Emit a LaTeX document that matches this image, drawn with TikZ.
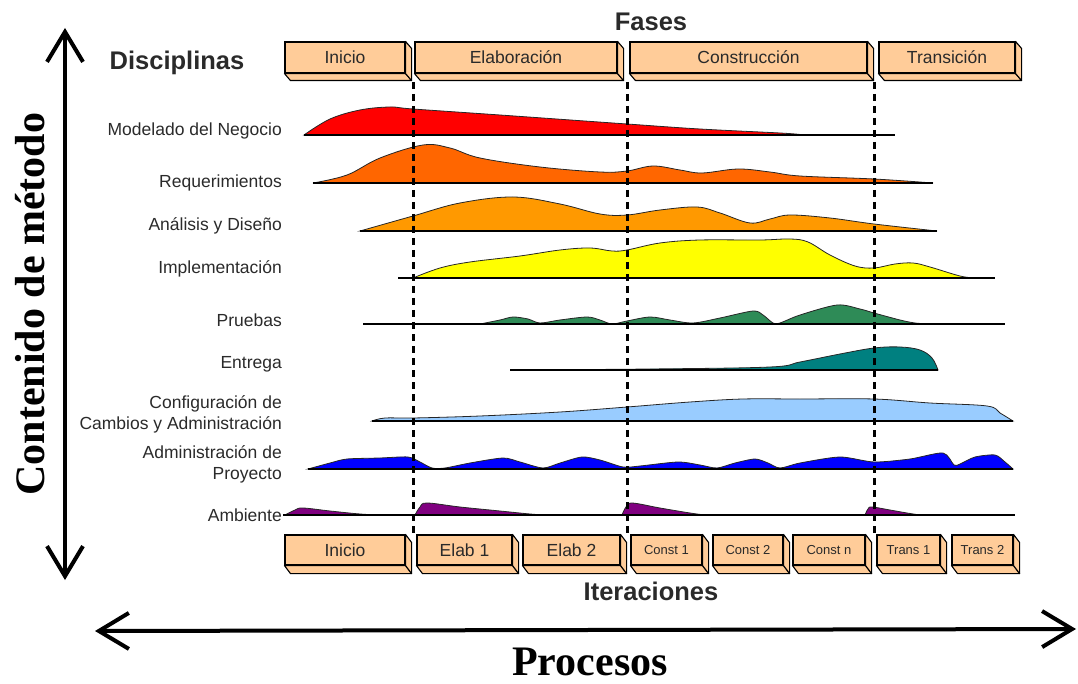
\documentclass[tikz,border=0pt]{standalone}
\usepackage{fontspec}
\setmainfont{Liberation Sans}
\newfontfamily\titleserif{Liberation Serif}
\usetikzlibrary{arrows.meta}
\definecolor{peach}{HTML}{FFCC99}
\definecolor{textgray}{HTML}{2A2A2A}
\definecolor{cRed}{HTML}{FF0000}
\definecolor{cOrange}{HTML}{FF6600}
\definecolor{cAmber}{HTML}{FF9900}
\definecolor{cYellow}{HTML}{FFFF00}
\definecolor{cGreen}{HTML}{2E8B57}
\definecolor{cTeal}{HTML}{008080}
\definecolor{cSky}{HTML}{99CCFF}
\definecolor{cBlue}{HTML}{0000FF}
\definecolor{cPurple}{HTML}{800080}
\begin{document}
\begin{tikzpicture}[x=1pt,y=-1pt,
  phase/.style={draw=black, line width=1.1pt, fill=peach, inner sep=0pt,
    text=textgray, font=\fontsize{17.5}{19}\selectfont},
  smallphase/.style={phase, font=\fontsize{13}{15}\selectfont},
  depth/.style={draw=black, line width=1.1pt, fill=peach, line join=round},
  disc/.style={anchor=east, text=textgray, align=right, inner sep=0pt,
    font=\fontsize{17.5}{21}\selectfont},
  heading/.style={text=textgray, font=\bfseries\fontsize{25.5}{28}\selectfont},
  bigtitle/.style={text=black, font=\titleserif\bfseries\fontsize{42}{46}\selectfont},
  hump/.style={draw=black!85, line width=0.8pt},
  base/.style={draw=black, line width=1.6pt},
  phaseline/.style={line width=3pt, dash pattern=on 7pt off 5pt},
  axis/.style={line width=4pt,
    {Straight Barb[length=30pt,width=36pt]}-{Straight Barb[length=30pt,width=36pt]}}
]
\useasboundingbox (0,0) rectangle (1078,684);

% ---- axes ----
\coordinate (ytop) at (65,28);
\coordinate (ybot) at (65,580);
\coordinate (xl) at (95,631);
\coordinate (xr) at (1076,629);
\draw[axis] (ytop) -- (ybot);
\draw[axis] (xl) -- (xr);
\node[bigtitle, rotate=90] (ttlv) at (30,304) {Contenido de método};
\node[bigtitle] (ttlh) at (590,662) {Procesos};

% ---- headings ----
\node[heading] (fases) at (651,22) {Fases};
\node[heading] (discip) at (177,63) {Disciplinas};
\node[heading] (iter) at (651,591) {Iteraciones};

% ---- phase boxes (top) ----
\foreach \n/\a/\b/\t in {p1/285/405/Inicio, p2/415/617/Elaboración,
                         p3/630/867/Construcción, p4/879/1015/Transición}{
  \node[phase, minimum width=\b pt-\a pt, minimum height=31pt]
    (\n) at ({(\a+\b)/2},57.5) {\t};
  \draw[depth] (\n.south west) -- ([shift={(6,7)}]\n.south west)
    -- ([shift={(6,7)}]\n.south east) -- (\n.south east) -- cycle;
  \draw[depth] (\n.north east) -- ([shift={(6,7)}]\n.north east)
    -- ([shift={(6,7)}]\n.south east) -- (\n.south east) -- cycle;
}

% ---- iteration boxes (bottom) ----
\foreach \n/\a/\b/\t/\s in {i1/285/405/Inicio/phase, i2/417/512/Elab 1/phase,
    i3/523/620/Elab 2/phase, i4/631/702/Const 1/smallphase,
    i5/713/783/Const 2/smallphase, i6/793/865/Const n/smallphase,
    i7/877/940/Trans 1/smallphase, i8/952/1013/Trans 2/smallphase}{
  \node[\s, minimum width=\b pt-\a pt, minimum height=30pt]
    (\n) at ({(\a+\b)/2},550) {\t};
  \draw[depth] (\n.south west) -- ([shift={(6,8)}]\n.south west)
    -- ([shift={(6,8)}]\n.south east) -- (\n.south east) -- cycle;
  \draw[depth] (\n.north east) -- ([shift={(6,8)}]\n.north east)
    -- ([shift={(6,8)}]\n.south east) -- (\n.south east) -- cycle;
}

% ---- discipline labels ----
\node[disc] (d1) at (282,131) {Modelado del Negocio};
\node[disc] (d2) at (282,183) {Requerimientos};
\node[disc] (d3) at (282,226) {Análisis y Diseño};
\node[disc] (d4) at (282,269) {Implementación};
\node[disc] (d5) at (282,320) {Pruebas};
\node[disc] (d6) at (282,364) {Entrega};
\node[disc] (d7) at (282,414) {Configuración de\\Cambios y Administración};
\node[disc] (d8) at (282,464) {Administración de\\Proyecto};
\node[disc] (d9) at (282,515) {Ambiente};

% ---- workload curves ----
% Modelado del Negocio
\path[fill=cRed, hump] plot[smooth, tension=0.6] coordinates {(304,135) (330,119) (360,110) (390,107) (413,109) (500,115) (627,124) (700,129) (780,133) (800,134.5)} -- cycle;
\draw[base] (304,135) -- (895,135);
% Requerimientos
\path[fill=cOrange, hump] plot[smooth, tension=0.6] coordinates {(313,183) (347,175) (380,158) (423,145) (450,148) (480,158) (540,167) (600,172) (627,171) (653,166) (680,170) (702,173) (738,169) (770,172) (800,176) (874,179) (933,183)} -- cycle;
\draw[base] (313,183) -- (933,183);
% Analisis y Diseno
\path[fill=cAmber, hump] plot[smooth, tension=0.6] coordinates {(360,231) (413,216) (460,203) (513,197) (560,204) (600,214) (627,215) (660,210) (697,207) (720,213) (750,223) (770,219) (790,215) (830,218) (874,224) (937,231)} -- cycle;
\draw[base] (360,231) -- (937,231);
% Implementacion
\path[fill=cYellow, hump] plot[smooth, tension=0.6] coordinates {(413,278) (440,268) (470,262) (520,256) (560,250) (590,248) (612,251) (627,250) (660,243) (700,240) (760,240) (790,239) (808,242) (830,255) (855,266) (874,268) (895,264) (913,263) (930,267) (960,276) (975,278)} -- cycle;
\draw[base] (398,278) -- (995,278);
% Pruebas
\path[fill=cGreen, hump] plot[smooth, tension=0.5] coordinates {(480,324) (500,320) (513,317) (528,319) (540,323) (560,320) (587,317) (600,320) (612,324) (627,321) (650,317) (670,320) (693,323) (720,318) (753,311) (763,315) (773,323) (780,323) (800,315) (837,305) (860,309) (874,313) (900,320) (915,323) (930,324)} -- cycle;
\draw[base] (363,324) -- (1005,324);
% Entrega
\path[fill=cTeal, hump] plot[smooth, tension=0.6] coordinates {(510,370) (650,369) (770,367) (800,362) (840,354) (874,348) (900,347) (920,350) (932,358) (938,370)} -- cycle;
\draw[base] (510,370) -- (938,370);
% Configuracion de Cambios
\path[fill=cSky, hump] plot[smooth, tension=0.6] coordinates {(372,421) (385,418) (413,418) (480,416) (560,412) (627,407) (690,402) (743,399) (800,399) (874,399) (930,403) (987,406) (1000,413) (1013,421)} -- cycle;
\draw[base] (372,421) -- (1013,421);
% Administracion de Proyecto
\path[fill=cBlue, hump] plot[smooth, tension=0.45] coordinates {(308,469) (330,463) (347,459) (380,458) (408,457) (420,462) (432,468) (445,468) (470,463) (503,458) (520,462) (543,468) (560,463) (582,457) (600,460) (623,467) (640,466) (678,462) (700,465) (717,468) (735,463) (755,459) (768,463) (780,468) (800,463) (840,457) (874,462) (910,459) (943,453) (954,465) (960,464) (975,457) (995,455) (1005,462) (1013,469)} -- cycle;
\draw[base] (308,469) -- (1013,469);
% Ambiente
\path[fill=cPurple, hump] plot[smooth, tension=0.6] coordinates {(285,515) (295,510) (303,508) (330,511) (360,514) (380,515)} -- cycle;
\path[fill=cPurple, hump] plot[smooth, tension=0.6] coordinates {(415,515) (420,507) (427,503) (460,507) (500,511) (530,514) (545,515)} -- cycle;
\path[fill=cPurple, hump] plot[smooth, tension=0.6] coordinates {(622,515) (626,507) (632,503) (660,508) (690,513) (705,515)} -- cycle;
\path[fill=cPurple, hump] plot[smooth, tension=0.6] coordinates {(865,515) (868,509) (872,507) (890,510) (907,513) (920,515)} -- cycle;
\draw[base] (283,515) -- (1015,515);

% ---- phase boundaries ----
\foreach \k/\x in {1/413, 2/627, 3/874}{
  \coordinate (v\k t) at (\x,82);
  \coordinate (v\k b) at (\x,533);
  \draw[phaseline] (v\k t) -- (v\k b);
}
\end{tikzpicture}
\end{document}
